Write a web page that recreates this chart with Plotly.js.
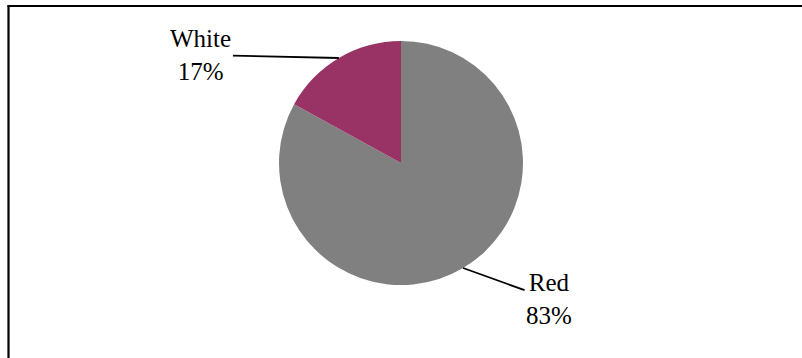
<!DOCTYPE html>
<html>
<head>
<meta charset="utf-8">
<script src="https://cdn.plot.ly/plotly-3.0.1.min.js"></script>
<style>html,body{margin:0;padding:0;background:#fff;}#chart{width:802px;height:358px;}</style>
</head>
<body>
<div id="chart"></div>
<script>
// Data
const labels = ['Red', 'White'];
const values = [83, 17];
const colors = ['#808080', '#993366'];
const percentText = ['83%', '17%'];

// Layout constants (pixels)
const W = 802, H = 358;
const cx = 401, cy = 163, R = 122;
const labelOffsets = [[86, 31], [-138, -3]];

const total = values.reduce((a, b) => a + b, 0);
const annotations = [];
let cum = 0;
values.forEach((v, i) => {
  const mid = (cum + v / 2) / total * 2 * Math.PI;
  cum += v;
  const px = cx + R * Math.sin(mid);
  const py = cy - R * Math.cos(mid);
  annotations.push({
    xref: 'paper', yref: 'paper',
    x: px / W, y: 1 - py / H,
    ax: labelOffsets[i][0], ay: labelOffsets[i][1],
    axref: 'pixel', ayref: 'pixel',
    text: labels[i] + '<br>' + percentText[i],
    showarrow: true, arrowhead: 0, arrowwidth: 1.8, arrowcolor: '#000',
    font: {family: '"Liberation Serif", "Times New Roman", serif', size: 25, color: '#000'},
    align: 'center', borderpad: 1
  });
});

const trace = {
  type: 'pie',
  labels: labels,
  values: values,
  sort: false,
  direction: 'clockwise',
  rotation: 0,
  marker: {colors: colors, line: {width: 0}},
  textinfo: 'none',
  hoverinfo: 'label+percent',
  showlegend: false,
  domain: {x: [(cx - R) / W, (cx + R) / W], y: [1 - (cy + R) / H, 1 - (cy - R) / H]}
};

const layout = {
  width: W, height: H,
  margin: {l: 0, r: 0, t: 0, b: 0},
  paper_bgcolor: '#fff',
  showlegend: false,
  annotations: annotations,
  shapes: [
    {type: 'line', xref: 'paper', yref: 'paper', x0: 7.5 / W, x1: 1.01, y0: 1 - 6 / H, y1: 1 - 6 / H, line: {color: '#000', width: 2.2}},
    {type: 'line', xref: 'paper', yref: 'paper', x0: 8.5 / W, x1: 8.5 / W, y0: -0.01, y1: 1 - 5 / H, line: {color: '#000', width: 2.2}}
  ]
};

Plotly.newPlot('chart', [trace], layout, {displayModeBar: false, staticPlot: true});
</script>
</body>
</html>
